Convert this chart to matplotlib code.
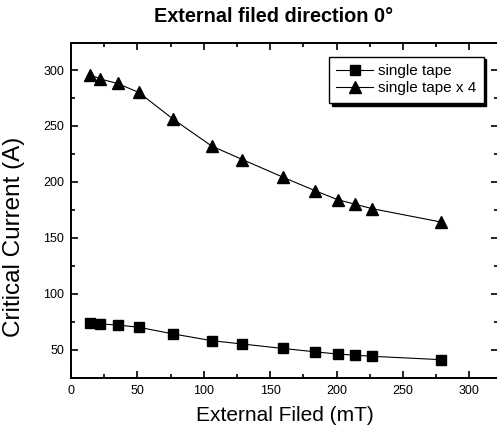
import numpy as np
import matplotlib.pyplot as plt
from matplotlib.ticker import MultipleLocator

plt.rcParams['font.family'] = ['Liberation Sans', 'DejaVu Sans']

# applied field (mT)
field = [14, 22, 35, 51, 77, 106, 129, 160, 184, 201, 214, 227, 279]
# critical current (A)
ic_single = [74, 73, 72, 70, 64, 58, 55, 51, 48, 46, 45, 44, 41]
ic_four = [296, 292, 288, 280, 256, 232, 220, 204, 192, 184, 180, 176, 164]

fig = plt.figure(figsize=(4.97, 4.32), dpi=100)
ax = fig.add_axes([0.143, 0.126, 0.860, 0.774])

ax.plot(field, ic_single, '-', color='black', lw=0.8, marker='s', ms=6.5,
        label='single tape')
ax.plot(field, ic_four, '-', color='black', lw=0.8, marker='^', ms=8,
        label='single tape x 4')

ax.set_xlim(0, 322)
ax.set_ylim(25, 324)
ax.xaxis.set_major_locator(MultipleLocator(50))
ax.xaxis.set_minor_locator(MultipleLocator(25))
ax.yaxis.set_major_locator(MultipleLocator(50))
ax.yaxis.set_minor_locator(MultipleLocator(25))
ax.tick_params(which='both', direction='in', top=True, right=True, width=1.2)
ax.tick_params(which='major', length=5, labelsize=9, pad=5)
ax.tick_params(which='minor', length=3)
for s in ax.spines.values():
    s.set_linewidth(1.4)

ax.set_xlabel('External Filed (mT)', fontsize=15, labelpad=7)
ax.set_ylabel('Critical Current (A)', fontsize=17.5)
ax.yaxis.set_label_coords(-0.108, 0.42)
fig.text(0.55, 0.962, 'External filed direction 0°', ha='center', va='center',
         fontsize=14.3, fontweight='bold')

leg = ax.legend(loc='upper right', bbox_to_anchor=(0.965, 0.96), fontsize=11,
                frameon=True, fancybox=False, edgecolor='black',
                shadow={'color': 'black', 'alpha': 1}, handlelength=2.4,
                borderpad=0.5, labelspacing=0.2, handletextpad=0.3,
                borderaxespad=0)
leg.get_frame().set_linewidth(1.0)

fig.savefig('out.png', dpi=100)
